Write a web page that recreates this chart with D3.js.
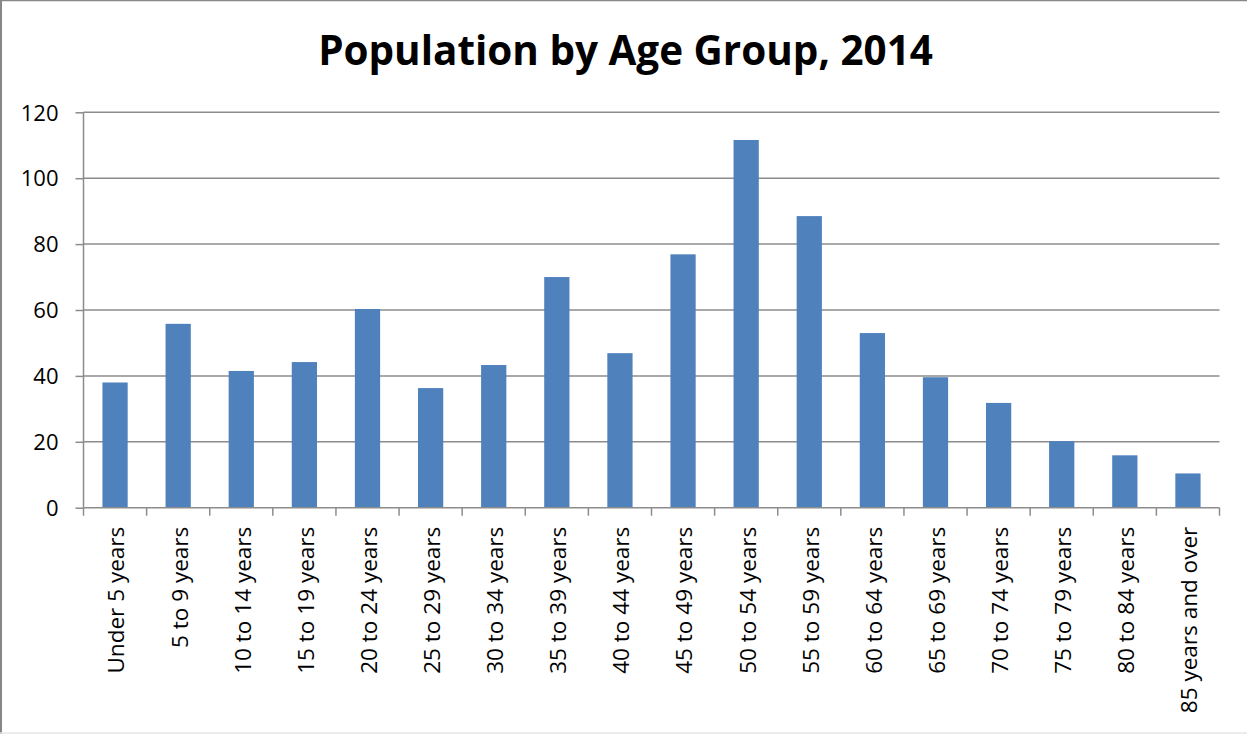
<!DOCTYPE html>
<html><head><meta charset="utf-8">
<script src="https://cdn.jsdelivr.net/npm/d3@7"></script>
<style>html,body{margin:0;padding:0;background:#fff;overflow:hidden}</style>
</head><body>
<svg id="c" width="1247" height="734"></svg>
<script>
const categories = ["Under 5 years","5 to 9 years","10 to 14 years","15 to 19 years","20 to 24 years","25 to 29 years","30 to 34 years","35 to 39 years","40 to 44 years","45 to 49 years","50 to 54 years","55 to 59 years","60 to 64 years","65 to 69 years","70 to 74 years","75 to 79 years","80 to 84 years","85 years and over"];
const values = [38.0, 55.8, 41.5, 44.2, 60.3, 36.3, 43.3, 70.0, 46.9, 76.9, 111.6, 88.5, 53.0, 39.6, 31.8, 20.2, 15.9, 10.4];
const yTicks = [0, 20, 40, 60, 80, 100, 120];
const title = "Population by Age Group, 2014";

(function(){
const svg = d3.select("#c");
const font = "'Open Sans', Calibri, sans-serif";
const pL = 83.5, pR = 1219.5, pT = 112.3, pB = 507.7;

// chart border
svg.append("line").attr("x1",1).attr("x2",1).attr("y1",0).attr("y2",734).attr("stroke","#878787").attr("stroke-width",2);
svg.append("line").attr("x1",0).attr("x2",1247).attr("y1",0.5).attr("y2",0.5).attr("stroke","#878787").attr("stroke-width",1.5);
svg.append("line").attr("x1",0).attr("x2",1247).attr("y1",733).attr("y2",733).attr("stroke","#e6e6e6").attr("stroke-width",1.5);

const x = d3.scaleBand().domain(categories).range([pL, pR]).paddingInner(0.6).paddingOuter(0.3);
const xb = d3.scaleBand().domain(categories).range([pL, pR]);
const y = d3.scaleLinear().domain([0,120]).range([pB, pT]);

// gridlines
svg.append("g").selectAll("line").data(yTicks.filter(d=>d>0)).join("line")
  .attr("x1",pL).attr("x2",pR).attr("y1",d=>y(d)).attr("y2",d=>y(d))
  .attr("stroke","#8c8c8c").attr("stroke-width",1.5);

// bars
svg.append("g").selectAll("rect").data(values).join("rect")
  .attr("x",(d,i)=>x(categories[i])).attr("width",x.bandwidth())
  .attr("y",d=>y(d)).attr("height",d=>pB-y(d))
  .attr("fill","#4F81BD");

// y axis
const yAxis = d3.axisLeft(y).tickValues(yTicks).tickSize(8).tickPadding(17);
const gy = svg.append("g").attr("transform",`translate(${pL},0)`).call(yAxis);
gy.select(".domain").attr("stroke","#8c8c8c").attr("stroke-width",1.5).attr("d",`M0,${pT}V${pB}`);
gy.selectAll(".tick line").attr("stroke","#8c8c8c").attr("stroke-width",1.5);
gy.selectAll("text").attr("font-family",font).attr("font-size",22).attr("fill","#000").attr("dy","0.35em");

// x axis
const gx = svg.append("g").attr("transform",`translate(0,${pB})`);
gx.append("line").attr("x1",pL).attr("x2",pR).attr("stroke","#8c8c8c").attr("stroke-width",1.5);
const bounds = categories.map(c=>xb(c)).concat([pR]);
gx.selectAll("line.t").data(bounds).join("line").attr("class","t")
  .attr("x1",d=>d).attr("x2",d=>d).attr("y1",0).attr("y2",8)
  .attr("stroke","#8c8c8c").attr("stroke-width",1.5);
const labels = gx.selectAll("text.l").data(categories).join("text").attr("class","l")
  .attr("transform",d=>`translate(${xb(d)+xb.bandwidth()/2+1.5},19) rotate(-90)`)
  .attr("text-anchor","end").attr("dy","0.35em")
  .attr("font-family",font).attr("font-size",20).attr("fill","#000")
  .text(d=>d);
const lw = labels.node().getComputedTextLength();
labels.attr("font-size", 20*147/lw);

// title
const t = svg.append("text").attr("x",625.5).attr("y",65).attr("text-anchor","middle")
  .attr("font-family",font).attr("font-weight","bold").attr("font-size",38).attr("fill","#000")
  .text(title);
const w = t.node().getComputedTextLength();
t.attr("font-size", 38*615/w);
})();
</script>
</body></html>
